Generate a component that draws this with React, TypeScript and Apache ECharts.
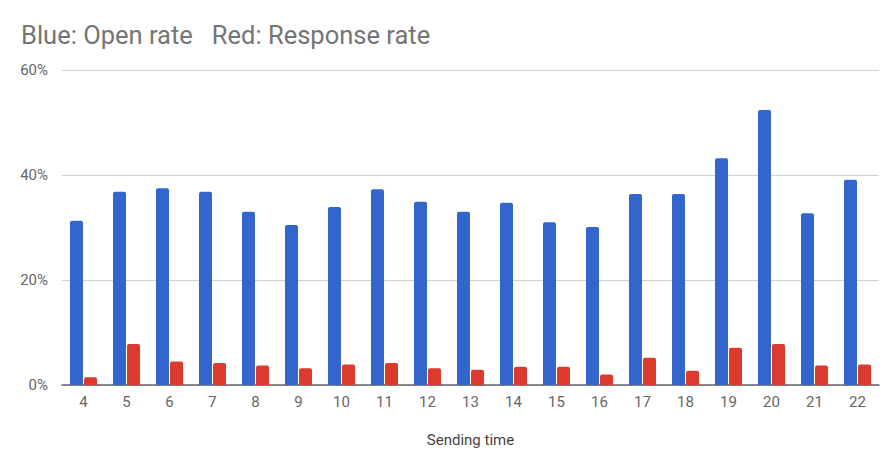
import React, { useEffect, useRef } from "react";
import * as echarts from "echarts";

const categories = ["4", "5", "6", "7", "8", "9", "10", "11", "12", "13", "14", "15", "16", "17", "18", "19", "20", "21", "22"];
const openRate = [31.3, 36.8, 37.5, 36.8, 33.0, 30.5, 33.9, 37.3, 34.9, 33.0, 34.7, 31.0, 30.1, 36.4, 36.4, 43.2, 52.4, 32.7, 39.1];
const responseRate = [1.5, 7.8, 4.5, 4.2, 3.7, 3.2, 3.9, 4.2, 3.2, 2.9, 3.5, 3.5, 2.0, 5.2, 2.7, 7.1, 7.8, 3.7, 3.9];
const yTicks = [0, 20, 40, 60];
const titleText = "Blue: Open rate\u00a0\u00a0\u00a0Red: Response rate";
const xAxisName = "Sending time";

export default function App() {
  const ref = useRef<HTMLDivElement>(null);
  useEffect(() => {
    document.body.style.margin = "0";
    if (!ref.current) return;
    const chart = echarts.init(ref.current, null, { renderer: "svg" });
    chart.setOption({
      animation: false,
      backgroundColor: "#ffffff",
      textStyle: { fontFamily: "Roboto" },
      title: {
        text: titleText,
        left: 16,
        top: 17,
        textStyle: { fontFamily: "Roboto", fontSize: 25.5, fontWeight: "normal", color: "#757575" },
      },
      grid: { left: 62, right: 17, top: 70, bottom: 81 },
      xAxis: {
        type: "category",
        data: categories,
        name: xAxisName,
        nameLocation: "middle",
        nameGap: 47,
        nameTextStyle: { fontFamily: "Roboto", fontSize: 15, color: "#444444" },
        axisTick: { show: false },
        axisLine: { lineStyle: { color: "#666666", width: 1.5 } },
        axisLabel: { fontFamily: "Roboto", fontSize: 15, color: "#666666", margin: 9 },
      },
      yAxis: {
        type: "value",
        min: yTicks[0],
        max: yTicks[yTicks.length - 1],
        interval: 20,
        axisLine: { show: false },
        axisTick: { show: false },
        axisLabel: { fontFamily: "Roboto", fontSize: 15, color: "#666666", margin: 14, formatter: "{value}%" },
        splitLine: { lineStyle: { color: "#d0d0d0", width: 1 } },
      },
      series: [
        {
          name: "Open rate",
          type: "bar",
          data: openRate,
          barWidth: 13,
          barGap: "8%",
          itemStyle: { color: "#3366cc", borderRadius: [2, 2, 0, 0] },
        },
        {
          name: "Response rate",
          type: "bar",
          data: responseRate,
          barWidth: 13,
          itemStyle: { color: "#db3a2d", borderRadius: [2, 2, 0, 0] },
        },
      ],
    });
    return () => chart.dispose();
  }, []);
  return <div ref={ref} style={{ width: 896, height: 466 }} />;
}
